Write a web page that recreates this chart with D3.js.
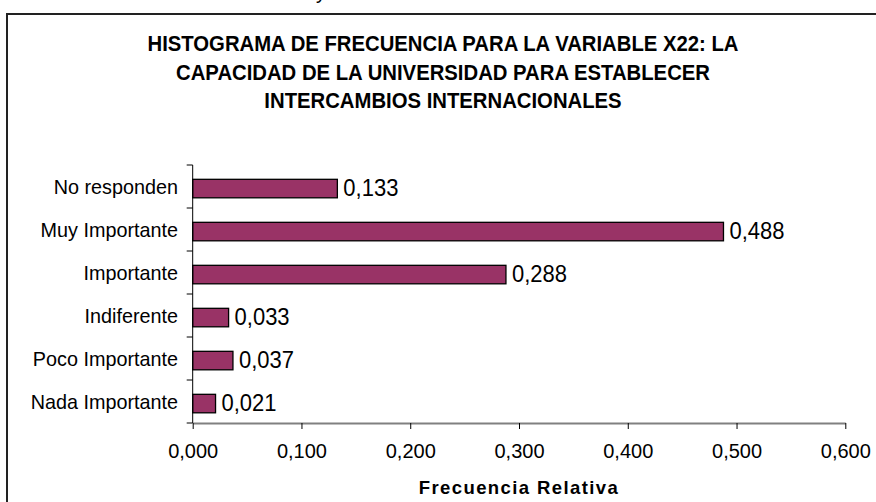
<!DOCTYPE html>
<html><head><meta charset="utf-8">
<script src="https://cdn.jsdelivr.net/npm/d3@7"></script>
<style>body{margin:0;background:#fff}svg{display:block}</style>
</head><body>
<svg id="c" width="876" height="502"></svg>
<script>
const categories = ["No responden","Muy Importante","Importante","Indiferente","Poco Importante","Nada Importante"];
const values = [0.133, 0.488, 0.288, 0.033, 0.037, 0.021];
const valueLabels = ["0,133","0,488","0,288","0,033","0,037","0,021"];
const xTicks = [0,0.1,0.2,0.3,0.4,0.5,0.6];
const titleLines = ["HISTOGRAMA DE FRECUENCIA PARA LA VARIABLE X22: LA","CAPACIDAD DE LA UNIVERSIDAD PARA ESTABLECER","INTERCAMBIOS INTERNACIONALES"];
const xTitle = "Frecuencia Relativa";

const svg = d3.select("#c");
const font = "Arial, 'Liberation Sans', sans-serif";

// stray glyph from the page above
svg.append("text").attr("x",316).attr("y",-1).attr("font-family",font).attr("font-size",20).text("y");

// outer border
svg.append("rect").attr("x",7).attr("y",14).attr("width",900).attr("height",600)
  .attr("fill","none").attr("stroke","#222").attr("stroke-width",2);

const x = d3.scaleLinear().domain([0,0.6]).range([192.7,845.3]);
const y = d3.scaleBand().domain(categories).range([165,423]).padding(0);
const fmt = v => d3.format(".3f")(v).replace(".",",");

// title
const tBase = [51,80,108];
svg.append("g").selectAll("text").data(titleLines).join("text")
  .attr("transform",(d,i)=>`translate(443,${tBase[i]}) scale(1,1.06)`).attr("text-anchor","middle")
  .attr("font-family",font).attr("font-weight","bold").attr("font-size",20.3).attr("fill","#000")
  .text(d=>d);

// bars
const bw = y.bandwidth();
svg.append("g").selectAll("rect").data(values).join("rect")
  .attr("x",x(0)).attr("y",(d,i)=>y(categories[i])+bw*0.333)
  .attr("width",d=>x(d)-x(0)).attr("height",bw*0.43)
  .attr("fill","#993366").attr("stroke","#000").attr("stroke-width",1.3);

// value labels
svg.append("g").selectAll("text").data(values).join("text")
  .attr("transform",(d,i)=>`translate(${x(d)+6},${y(categories[i])+31}) scale(1,1.08)`)
  .attr("font-family",font).attr("font-size",22).attr("fill","#000")
  .text((d,i)=>valueLabels[i]);

// x axis
const xAxis = d3.axisBottom(x).tickValues(xTicks).tickFormat(fmt).tickSize(6).tickSizeOuter(0);
const gx = svg.append("g").attr("transform","translate(0,423)").call(xAxis);
gx.select(".domain").attr("stroke","#808080").attr("stroke-width",2);
gx.selectAll(".tick line").attr("stroke","#000");
gx.selectAll(".tick text").attr("font-family",font).attr("font-size",20).attr("fill","#000").attr("y",35).attr("dy",0);

// y axis: ticks at category boundaries
const bounds = categories.map(c=>y(c)).concat([y.range()[1]]);
svg.append("line").attr("x1",x(0)).attr("x2",x(0)).attr("y1",165).attr("y2",423).attr("stroke","#000");
svg.append("g").selectAll("line").data(bounds).join("line")
  .attr("x1",x(0)-6).attr("x2",x(0)).attr("y1",d=>d).attr("y2",d=>d).attr("stroke","#000");
svg.append("g").selectAll("text").data(categories).join("text")
  .attr("x",178).attr("y",d=>y(d)+bw/2+7).attr("text-anchor","end")
  .attr("font-family",font).attr("font-size",19.8).attr("fill","#000").text(d=>d);

// x axis title
svg.append("text").attr("x",519).attr("y",494).attr("text-anchor","middle")
  .attr("font-family",font).attr("font-weight","bold").attr("font-size",18.5).attr("letter-spacing",1.4)
  .attr("fill","#000").text(xTitle);
</script>
</body></html>
